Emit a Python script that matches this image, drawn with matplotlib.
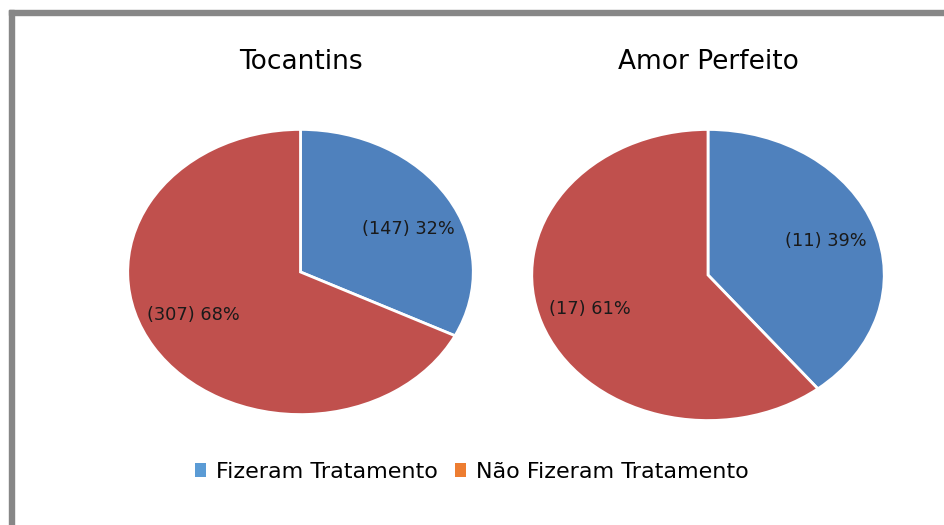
import numpy as np
import matplotlib
matplotlib.use("Agg")
import matplotlib.pyplot as plt
from matplotlib.patches import Rectangle, Patch

titles = ["Tocantins", "Amor Perfeito"]
categories = ["Fizeram Tratamento", "Não Fizeram Tratamento"]
tocantins = [147, 307]
amor_perfeito = [11, 17]
pie_colors = ["#4F81BD", "#C0504D"]
legend_colors = ["#5B9BD5", "#ED7D31"]

W, H = 945, 525
fig = plt.figure(figsize=(W / 100, H / 100), dpi=100)
fig.patch.set_facecolor("white")

# frame (top and left gray bars)
fig.patches.append(Rectangle((9 / W, 1 - 15 / H), (W - 9) / W, 5 / H,
                             transform=fig.transFigure, color="#878787", zorder=0))
fig.patches.append(Rectangle((9 / W, 0), 5 / W, 1 - 10 / H,
                             transform=fig.transFigure, color="#878787", zorder=0))

def make_pie(rect, values, title, title_y, label_dist, angle_shift):
    ax = fig.add_axes(rect)
    total = sum(values)
    def fmt(p):
        n = round(p * total / 100)
        return f"({n}) {p:.0f}%"
    wedges, texts, autotexts = ax.pie(values, colors=pie_colors, startangle=90,
                                      counterclock=False, autopct=fmt, pctdistance=0.7,
                                      wedgeprops=dict(edgecolor="white", linewidth=2),
                                      textprops=dict(fontsize=12.8, color="#1a1a1a",
                                                     family="DejaVu Sans"))
    for w, t in zip(wedges, autotexts):
        ang = np.deg2rad((w.theta1 + w.theta2) / 2 + angle_shift)
        t.set_position((label_dist * np.cos(ang), label_dist * np.sin(ang)))
    ax.set_xlim(-1.01, 1.01)
    ax.set_ylim(-1.01, 1.01)
    ax.set_aspect("auto")
    ax.axis("off")
    cx = rect[0] + rect[2] / 2
    fig.text(cx, title_y, title, ha="center", va="center", fontsize=19,
             family="DejaVu Sans", color="#000000")
    return ax

make_pie([126 / W, 1 - 416 / H, 349 / W, 288 / H], tocantins, titles[0], 1 - 62 / H, 0.69, -6)
make_pie([530 / W, 1 - 422 / H, 356 / W, 294 / H], amor_perfeito, titles[1], 1 - 62 / H, 0.71, 0)

handles = [Patch(facecolor=c, edgecolor="none", label=l) for c, l in zip(legend_colors, categories)]
fig.legend(handles=handles, loc="center", bbox_to_anchor=(472 / W, 1 - 472 / H),
           ncol=2, frameon=False, handlelength=0.5, handleheight=0.6,
           handletextpad=0.45, columnspacing=0.75,
           prop=dict(family="DejaVu Sans", size=16))

fig.savefig("out.png", dpi=100, facecolor="white")
